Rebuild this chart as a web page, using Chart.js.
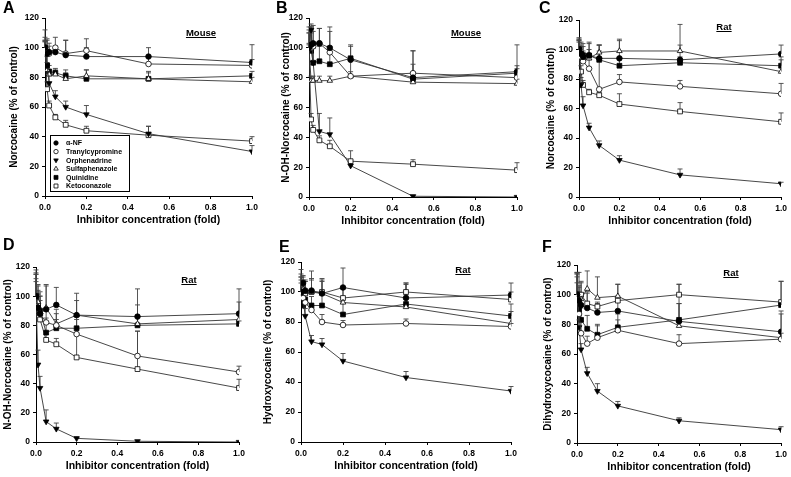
<!DOCTYPE html>
<html>
<head>
<meta charset="utf-8">
<script src="https://cdn.jsdelivr.net/npm/chart.js@4.4.1/dist/chart.umd.min.js"></script>
<style>
  body { margin: 0; background: #fff; }
  #wrap { position: relative; width: 791px; height: 477px; overflow: hidden; font-family: "Liberation Sans", Arial, sans-serif; }
  canvas { position: absolute; }
  .letter { position: absolute; font-weight: bold; font-size: 16px; line-height: 16px; }
  .species { position: absolute; font-weight: bold; font-size: 9.5px; line-height: 10px; text-decoration: underline; transform: translate(-50%, -50%); }
</style>
</head>
<body>
<div id="wrap"></div>
<script>
// inhibitor concentration (fold), same for every panel
const conc = [0, 0.01, 0.02, 0.05, 0.1, 0.2, 0.5, 1.0];
const inhibitors = ['α-NF', 'Tranylcypromine', 'Orphenadrine', 'Sulfaphenazole', 'Quinidine', 'Ketoconazole'];
const xTicks = [0, 0.2, 0.4, 0.6, 0.8, 1.0];
const yTicks = [0, 20, 40, 60, 80, 100, 120];

// A: mouse, norcocaine  (rows follow the inhibitor order)
const aMean = [
  [100, 96, 97, 97, 95, 94, 94, 90],
  [100, 97, 96, 100, 96, 98, 89, 88],
  [100, 88, 76, 67, 60, 55, 42, 30],
  [100, 85, 82, 82, 79, 81, 79, 77],
  [100, 88, 84, 83, 81, 79, 79, 81],
  [100, 72, 61, 53, 48, 44, 41, 37],
];
const aSd = [
  [5, 10, 6, 4, 10, 6, 6, 12],
  [4, 8, 5, 7, 9, 8, 5, 4],
  [12, 7, 5, 4, 4, 6, 5, 4],
  [7, 5, 3, 3, 4, 4, 4, 3],
  [5, 6, 4, 3, 4, 6, 5, 3],
  [4, 5, 3, 2, 3, 3, 6, 3],
];

// B: mouse, N-OH-norcocaine
const bMean = [
  [100, 102, 103, 103, 100, 92, 80, 84],
  [100, 100, 101, 103, 97, 81, 83, 80],
  [100, 112, 90, 44, 42, 21, 0.5, 0],
  [100, 78, 78, 78, 78, 81, 77, 76],
  [100, 98, 90, 91, 89, 93, 79, 83],
  [100, 52, 45, 38, 34, 24, 22, 18],
];
const bSd = [
  [14, 12, 12, 10, 14, 10, 18, 18],
  [12, 14, 10, 10, 14, 12, 15, 8],
  [3, 4, 10, 12, 11, 3, 0, 0],
  [10, 3, 3, 3, 3, 3, 3, 3],
  [10, 12, 10, 10, 12, 8, 10, 3],
  [2, 4, 3, 3, 4, 7, 3, 5],
];

// C: rat, norcocaine
const cMean = [
  [100, 97, 95, 96, 94, 94, 93, 97],
  [100, 95, 92, 87, 73, 78, 75, 70],
  [100, 76, 62, 47, 35, 25, 15, 9],
  [100, 96, 94, 94, 98, 99, 99, 85],
  [100, 97, 96, 96, 93, 89, 91, 89],
  [100, 85, 76, 71, 69, 63, 58, 51],
];
const cSd = [
  [7, 8, 7, 8, 9, 12, 10, 6],
  [6, 6, 7, 6, 30, 5, 4, 7],
  [8, 5, 6, 3, 3, 3, 4, 1],
  [7, 6, 4, 6, 5, 8, 18, 8],
  [6, 6, 8, 9, 6, 4, 4, 6],
  [5, 4, 3, 2, 2, 7, 6, 6],
];

// D: rat, N-OH-norcocaine
const dMean = [
  [100, 92, 88, 91, 94, 87, 86, 88],
  [100, 92, 88, 82, 80, 74, 59, 48],
  [100, 53, 37, 14, 9, 2.5, 0.5, 0],
  [100, 96, 88, 92, 81, 87, 81, 84],
  [100, 92, 90, 75, 78, 78, 80, 81],
  [100, 94, 84, 70, 67, 58, 50, 37],
];
const dSd = [
  [18, 15, 15, 16, 12, 15, 19, 17],
  [16, 12, 9, 10, 8, 12, 17, 4],
  [15, 10, 8, 8, 4, 1, 0, 0],
  [15, 12, 12, 16, 10, 10, 13, 12],
  [12, 10, 10, 10, 6, 6, 7, 2],
  [10, 7, 5, 4, 4, 16, 26, 6],
];

// E: rat, hydroxycocaine
const eMean = [
  [100, 106, 101, 101, 99, 103, 96, 98],
  [100, 96, 93, 88, 80, 78, 79, 77],
  [100, 95, 84, 67, 65, 54, 43, 34],
  [100, 102, 100, 100, 99, 93, 90, 79],
  [100, 91, 95, 91, 91, 85, 92, 84],
  [100, 100, 99, 100, 100, 96, 100, 95],
];
const eSd = [
  [10, 5, 6, 8, 8, 13, 10, 8],
  [8, 5, 5, 4, 5, 3, 3, 2],
  [6, 5, 5, 4, 4, 5, 4, 3],
  [12, 8, 8, 14, 9, 10, 15, 8],
  [10, 7, 6, 6, 8, 8, 6, 8],
  [15, 8, 8, 8, 9, 6, 6, 5],
];

// F: rat, dihydroxycocaine
const fMean = [
  [100, 96, 93, 91, 88, 89, 82, 75],
  [100, 87, 74, 67, 71, 76, 67, 70],
  [100, 78, 63, 47, 35, 25, 15, 9],
  [100, 95, 97, 104, 98, 99, 79, 71],
  [100, 90, 83, 77, 73, 78, 83, 93],
  [100, 100, 100, 94, 92, 96, 100, 95],
];
const fSd = [
  [15, 10, 8, 10, 6, 10, 12, 14],
  [14, 12, 8, 5, 8, 7, 6, 4],
  [8, 5, 4, 4, 5, 3, 2, 2],
  [15, 10, 12, 12, 14, 8, 28, 16],
  [12, 10, 8, 9, 7, 9, 11, 16],
  [14, 15, 8, 8, 3, 11, 7, 14],
];

const MARKS = [
  { style: 'circle', rot: 0, r: 2.8, fill: '#000' },
  { style: 'circle', rot: 0, r: 2.8, fill: '#fff' },
  { style: 'triangle', rot: 180, r: 3.2, fill: '#000' },
  { style: 'triangle', rot: 0, r: 3.2, fill: '#fff' },
  { style: 'rect', rot: 0, r: 3.4, fill: '#000' },
  { style: 'rect', rot: 0, r: 3.4, fill: '#fff' },
];

const FONT = '"Liberation Sans", Arial, sans-serif';

// cx, cy, cw: canvas box; plot: left, right, top, bottom of the plot area; ytx: centre of the y title
const panels = [
  { id: 'A', mean: aMean, sd: aSd, ytitle: 'Norcocaine (% of control)', species: 'Mouse', sp: [201, 33], lt: [3, 0],
    cx: 0, cy: 0, cw: 262, plot: [45, 252, 18, 196], ytx: 14, legend: true },
  { id: 'B', mean: bMean, sd: bSd, ytitle: 'N-OH-Norcocaine (% of control)', species: 'Mouse', sp: [466, 33], lt: [276, 0],
    cx: 262, cy: 0, cw: 266, plot: [309, 517, 18, 197], ytx: 286 },
  { id: 'C', mean: cMean, sd: cSd, ytitle: 'Norcocaine (% of control)', species: 'Rat', sp: [724, 27], lt: [539, 0],
    cx: 530, cy: 0, cw: 261, plot: [579, 785, 20, 197], ytx: 551 },
  { id: 'D', mean: dMean, sd: dSd, ytitle: 'N-OH-Norcocaine (% of control)', species: 'Rat', sp: [189, 280], lt: [3, 237],
    cx: 0, cy: 235, cw: 258, plot: [36, 239, 267, 442], ytx: 8 },
  { id: 'E', mean: eMean, sd: eSd, ytitle: 'Hydroxycocaine (% of control)', species: 'Rat', sp: [463, 270], lt: [279, 239],
    cx: 258, cy: 235, cw: 268, plot: [301, 511, 262, 442], ytx: 268 },
  { id: 'F', mean: fMean, sd: fSd, ytitle: 'Dihydroxycocaine (% of control)', species: 'Rat', sp: [731, 273], lt: [542, 239],
    cx: 530, cy: 235, cw: 261, plot: [577, 785, 265, 443], ytx: 548 },
];

const X_H = 32;
const YT_FONT = 10;

// upper SD whiskers, drawn below the markers
const errorBars = {
  id: 'errorBars',
  beforeDatasetsDraw(chart) {
    const { ctx } = chart;
    const ys = chart.scales.y;
    ctx.save();
    ctx.strokeStyle = '#444';
    ctx.lineWidth = 0.9;
    chart.data.datasets.forEach((ds, k) => {
      const meta = chart.getDatasetMeta(k);
      ds.data.forEach((pt, i) => {
        const sd = ds.sd[i];
        if (!sd) return;
        const el = meta.data[i];
        const top = ys.getPixelForValue(pt.y + sd);
        ctx.beginPath();
        ctx.moveTo(el.x, el.y);
        ctx.lineTo(el.x, top);
        ctx.moveTo(el.x - 2.5, top);
        ctx.lineTo(el.x + 2.5, top);
        ctx.stroke();
      });
    });
    ctx.restore();
  },
};

// legend box inside panel A
const legendBox = {
  id: 'legendBox',
  afterDraw(chart) {
    const ctx = chart.ctx;
    ctx.save();
    ctx.strokeStyle = '#000';
    ctx.lineWidth = 1;
    ctx.fillStyle = '#fff';
    ctx.fillRect(50.5, 135.5, 79, 56);
    ctx.strokeRect(50.5, 135.5, 79, 56);
    ctx.font = 'bold 7px ' + FONT;
    ctx.textBaseline = 'middle';
    inhibitors.forEach((name, k) => {
      const y = 143 + k * 8.6;
      const m = MARKS[k];
      ctx.fillStyle = m.fill;
      ctx.strokeStyle = '#000';
      ctx.lineWidth = 0.8;
      Chart.helpers.drawPoint(ctx, { pointStyle: m.style, rotation: m.rot, radius: m.r - 0.6, borderWidth: 0.8 }, 56, y);
      ctx.fillStyle = '#000';
      ctx.fillText(name, 66, y + 0.5);
    });
    ctx.restore();
  },
};

const wrap = document.getElementById('wrap');

panels.forEach(p => {
  const [pl, pr, pt, pb] = p.plot;
  const ch = pb - p.cy + X_H;
  const canvas = document.createElement('canvas');
  canvas.width = p.cw;
  canvas.height = ch;
  canvas.style.left = p.cx + 'px';
  canvas.style.top = p.cy + 'px';
  wrap.appendChild(canvas);

  const letter = document.createElement('div');
  letter.className = 'letter';
  letter.textContent = p.id;
  letter.style.left = p.lt[0] + 'px';
  letter.style.top = p.lt[1] + 'px';
  wrap.appendChild(letter);

  const sp = document.createElement('div');
  sp.className = 'species';
  sp.textContent = p.species;
  sp.style.left = p.sp[0] + 'px';
  sp.style.top = p.sp[1] + 'px';
  wrap.appendChild(sp);

  const yLineH = YT_FONT * 1.2;

  new Chart(canvas, {
    type: 'scatter',
    data: {
      datasets: inhibitors.map((name, k) => ({
        label: name,
        data: conc.map((x, i) => ({ x, y: p.mean[k][i] })),
        sd: p.sd[k],
        showLine: true,
        borderColor: '#333',
        borderWidth: 0.9,
        pointStyle: MARKS[k].style,
        rotation: MARKS[k].rot,
        pointRadius: MARKS[k].r,
        pointBackgroundColor: MARKS[k].fill,
        pointBorderColor: '#000',
        pointBorderWidth: 0.8,
      })),
    },
    options: {
      responsive: false,
      animation: false,
      events: [],
      layout: { padding: { top: pt - p.cy, right: p.cx + p.cw - pr, left: 0, bottom: 0 } },
      plugins: { legend: { display: false }, tooltip: { enabled: false } },
      scales: {
        x: {
          type: 'linear', min: 0, max: 1,
          afterFit(s) { s.height = X_H; },
          afterBuildTicks(s) { s.ticks = xTicks.map(v => ({ value: v })); },
          ticks: { callback: v => v.toFixed(1), color: '#000', padding: 4, maxRotation: 0, font: { family: FONT, size: 8.5, weight: 'bold' } },
          grid: { drawOnChartArea: false, color: '#000', tickLength: 3 },
          border: { color: '#000', width: 1 },
          title: { display: true, text: 'Inhibitor concentration (fold)', color: '#000', padding: { top: 0, bottom: 2 },
            font: { family: FONT, size: 10.5, weight: 'bold' } },
        },
        y: {
          type: 'linear', min: 0, max: 120,
          afterFit(s) { s.width = pl - p.cx; },
          afterBuildTicks(s) { s.ticks = yTicks.map(v => ({ value: v })); },
          ticks: { color: '#000', padding: 3, font: { family: FONT, size: 8.5, weight: 'bold' } },
          grid: { drawOnChartArea: false, color: '#000', tickLength: 3 },
          border: { color: '#000', width: 1 },
          title: { display: true, text: p.ytitle, color: '#000', padding: { top: p.ytx - p.cx - yLineH / 2, bottom: 0 },
            font: { family: FONT, size: YT_FONT, weight: 'bold' } },
        },
      },
    },
    plugins: p.legend ? [errorBars, legendBox] : [errorBars],
  });
});
</script>
</body>
</html>
